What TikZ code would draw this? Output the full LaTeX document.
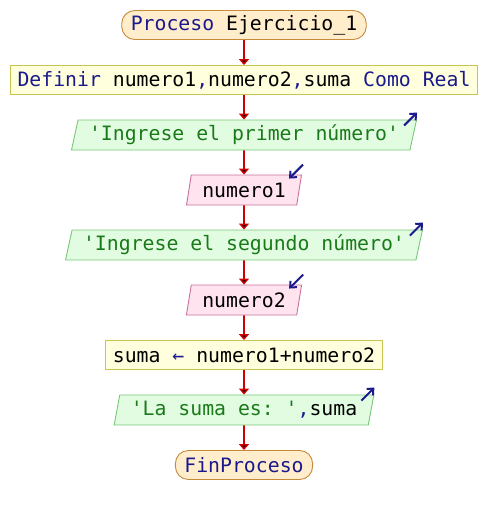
\documentclass[tikz,border=0pt]{standalone}
\usepackage{fontspec}
\setmonofont{DejaVu Sans Mono}
\usepackage{tikz}
\usetikzlibrary{positioning,calc,shapes.geometric,arrows.meta}
\definecolor{kwblue}{HTML}{1A1A8C}
\definecolor{strgreen}{HTML}{1A7A1A}
\definecolor{termfill}{HTML}{FFEDCC}
\definecolor{termline}{HTML}{C8893A}
\definecolor{procfill}{HTML}{FFFFDD}
\definecolor{procline}{HTML}{C8C450}
\definecolor{outfill}{HTML}{E2FCE2}
\definecolor{outline}{HTML}{78C878}
\definecolor{infill}{HTML}{FFE4F0}
\definecolor{inline}{HTML}{C8709A}
\definecolor{flowred}{HTML}{CC0000}
\newcommand{\kw}[1]{\textcolor{kwblue}{#1}}
\newcommand{\str}[1]{\textcolor{strgreen}{#1}}
\newcommand{\q}{\textquotesingle}
\tikzset{
	flowchart/.style={node distance=55pt,on grid,
		font=\ttfamily\fontsize{19.8}{22}\selectfont},
	terminal/.style={rectangle,rounded corners=13pt,draw=termline,fill=termfill,
		line width=0.9pt,minimum height=29pt,inner xsep=9pt,inner ysep=0pt},
	process/.style={rectangle,draw=procline,fill=procfill,line width=0.9pt,
		minimum height=29pt,inner xsep=7pt,inner ysep=0pt},
	output/.style={trapezium,trapezium left angle=72,trapezium right angle=108,
		trapezium stretches body,
		draw=outline,fill=outfill,line width=0.9pt,minimum height=30pt,
		inner xsep=11pt,inner ysep=0pt},
	input/.style={output,draw=inline,fill=infill},
	flow/.style={-{Triangle[length=6pt,width=10pt]},draw=flowred,line width=1.6pt},
	icon/.style={-{Straight Barb[length=5pt,width=9pt]},draw=kwblue,line width=2pt}
}

\begin{document}
\begin{tikzpicture}[flowchart]
	\useasboundingbox (0,0) rectangle (488pt,-515pt);
	
	\node[terminal] (inicio) at (244pt,-25pt) {\kw{Proceso} Ejercicio\_1};
	\node[process] (definir) [below=of inicio] {\kw{Definir} numero1\kw{,}numero2\kw{,}suma \kw{Como Real}};
	\node[output] (escribir1) [below=of definir] {\str{\q Ingrese el primer número\q}};
	\node[input] (leer1) [below=of escribir1] {numero1};
	\node[output] (escribir2) [below=of leer1] {\str{\q Ingrese el segundo número\q}};
	\node[input] (leer2) [below=of escribir2] {numero2};
	\node[process] (asignar) [below=of leer2] {suma \kw{←} numero1+numero2};
	\node[output] (escribir3) [below=of asignar] {\str{\q La suma es: \q}\kw{,}suma};
	\node[terminal] (fin) [below=of escribir3] {\kw{FinProceso}};
	
	\path[flow] (inicio) edge (definir);
	\path[flow] (definir) edge (escribir1);
	\path[flow] (escribir1) edge (leer1);
	\path[flow] (leer1) edge (escribir2);
	\path[flow] (escribir2) edge (leer2);
	\path[flow] (leer2) edge (asignar);
	\path[flow] (asignar) edge (escribir3);
	\path[flow] (escribir3) edge (fin);
	
	% entrada / salida
	\draw[icon] ($(escribir1.top right corner)+(-13pt,-6pt)$) -- ++(13pt,13pt);
	\draw[icon] ($(escribir2.top right corner)+(-13pt,-6pt)$) -- ++(13pt,13pt);
	\draw[icon] ($(escribir3.top right corner)+(-13pt,-6pt)$) -- ++(13pt,13pt);
	\draw[icon] ($(leer1.top right corner)+(1pt,10pt)$) -- ++(-14pt,-14pt);
	\draw[icon] ($(leer2.top right corner)+(1pt,10pt)$) -- ++(-14pt,-14pt);
\end{tikzpicture}
\end{document}
